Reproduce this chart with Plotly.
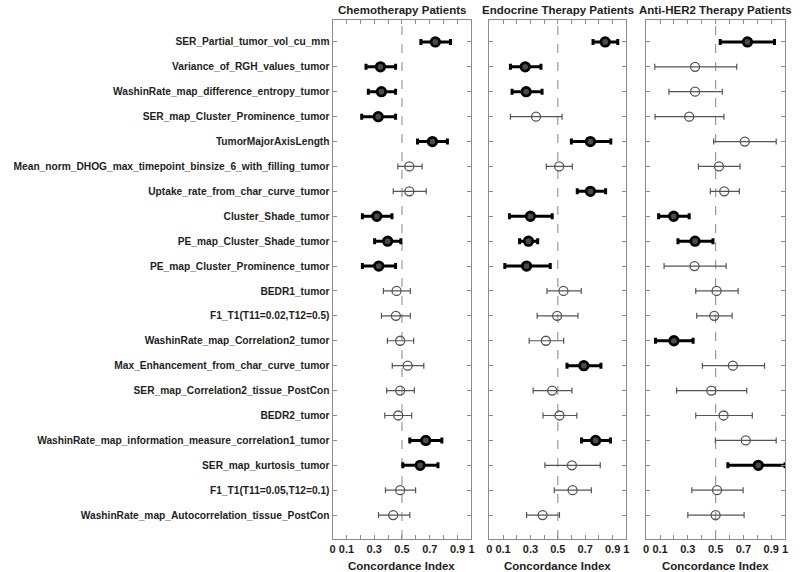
import plotly.graph_objects as go

features = [
    "SER_Partial_tumor_vol_cu_mm",
    "Variance_of_RGH_values_tumor",
    "WashinRate_map_difference_entropy_tumor",
    "SER_map_Cluster_Prominence_tumor",
    "TumorMajorAxisLength",
    "Mean_norm_DHOG_max_timepoint_binsize_6_with_filling_tumor",
    "Uptake_rate_from_char_curve_tumor",
    "Cluster_Shade_tumor",
    "PE_map_Cluster_Shade_tumor",
    "PE_map_Cluster_Prominence_tumor",
    "BEDR1_tumor",
    "F1_T1(T11=0.02,T12=0.5)",
    "WashinRate_map_Correlation2_tumor",
    "Max_Enhancement_from_char_curve_tumor",
    "SER_map_Correlation2_tissue_PostCon",
    "BEDR2_tumor",
    "WashinRate_map_information_measure_correlation1_tumor",
    "SER_map_kurtosis_tumor",
    "F1_T1(T11=0.05,T12=0.1)",
    "WashinRate_map_Autocorrelation_tissue_PostCon",
]

panel_titles = ["Chemotherapy Patients", "Endocrine Therapy Patients", "Anti-HER2 Therapy Patients"]

# Chemotherapy
chemo_ci = [0.74, 0.345, 0.352, 0.329, 0.719, 0.553, 0.553, 0.319, 0.397, 0.333,
            0.461, 0.456, 0.487, 0.541, 0.487, 0.473, 0.671, 0.631, 0.487, 0.437]
chemo_lo = [0.636, 0.241, 0.258, 0.21, 0.612, 0.47, 0.437, 0.215, 0.303, 0.215,
            0.366, 0.352, 0.395, 0.43, 0.39, 0.376, 0.556, 0.506, 0.381, 0.331]
chemo_hi = [0.849, 0.454, 0.454, 0.454, 0.827, 0.645, 0.674, 0.428, 0.492, 0.454,
            0.56, 0.56, 0.584, 0.657, 0.589, 0.57, 0.787, 0.759, 0.598, 0.556]
chemo_sig = [1, 1, 1, 1, 1, 0, 0, 1, 1, 1, 0, 0, 0, 0, 0, 0, 1, 1, 0, 0]

# Endocrine
endo_ci = [0.846, 0.262, 0.269, 0.341, 0.738, 0.51, 0.738, 0.3, 0.286, 0.272,
           0.541, 0.495, 0.413, 0.69, 0.459, 0.512, 0.776, 0.603, 0.608, 0.389]
endo_lo = [0.757, 0.154, 0.166, 0.154, 0.599, 0.416, 0.642, 0.147, 0.221, 0.113,
           0.421, 0.349, 0.291, 0.567, 0.32, 0.392, 0.673, 0.406, 0.474, 0.272]
endo_hi = [0.938, 0.377, 0.385, 0.531, 0.887, 0.606, 0.849, 0.459, 0.353, 0.445,
           0.671, 0.647, 0.543, 0.815, 0.603, 0.639, 0.885, 0.81, 0.745, 0.512]
endo_sig = [1, 1, 1, 0, 1, 0, 1, 1, 1, 1, 0, 0, 0, 1, 0, 0, 1, 0, 0, 0]

# Anti-HER2
her2_ci = [0.729, 0.352, 0.352, 0.31, 0.71, 0.524, 0.562, 0.198, 0.352, 0.348,
           0.507, 0.49, 0.2, 0.624, 0.469, 0.557, 0.717, 0.807, 0.51, 0.5]
her2_lo = [0.533, 0.062, 0.164, 0.064, 0.486, 0.376, 0.462, 0.09, 0.229, 0.129,
           0.357, 0.364, 0.067, 0.405, 0.219, 0.357, 0.498, 0.588, 0.329, 0.3]
her2_hi = [0.924, 0.652, 0.548, 0.56, 0.936, 0.676, 0.671, 0.31, 0.481, 0.576,
           0.662, 0.619, 0.338, 0.852, 0.724, 0.764, 0.936, 1.0, 0.698, 0.705]
her2_sig = [1, 0, 0, 0, 0, 0, 0, 1, 1, 0, 0, 0, 1, 0, 0, 0, 0, 1, 0, 0]

x_tickvals = [0, 0.1, 0.2, 0.3, 0.4, 0.5, 0.6, 0.7, 0.8, 0.9, 1.0]
x_ticktext = ["0", "0.1", "", "0.3", "", "0.5", "", "0.7", "", "0.9", "1"]

panels = [
    (chemo_ci, chemo_lo, chemo_hi, chemo_sig),
    (endo_ci, endo_lo, endo_hi, endo_sig),
    (her2_ci, her2_lo, her2_hi, her2_sig),
]

W, H = 800, 572
x_px = [(332, 472), (490, 628), (648, 788)]
y_top, y_bot = 20, 539
ydom = [1 - y_bot / H, 1 - y_top / H]

FONT = "Liberation Sans, Arial, sans-serif"
TXT = "#1e1e1e"
AX = "#8c8c8c"

fig = go.Figure()
rows = list(range(1, len(features) + 1))

for i, (ci, lo, hi, sig) in enumerate(panels):
    xa = "x" if i == 0 else f"x{i+1}"
    ya = "y" if i == 0 else f"y{i+1}"
    for s in (0, 1):
        idx = [k for k in range(len(ci)) if sig[k] == s]
        xs = [ci[k] for k in idx]
        ys = [rows[k] for k in idx]
        plus = [hi[k] - ci[k] for k in idx]
        minus = [ci[k] - lo[k] for k in idx]
        if s == 1:
            err = dict(type="data", array=plus, arrayminus=minus, symmetric=False,
                       color="#000000", thickness=3, width=3)
            mk = dict(symbol="circle", size=8.5, color="#4a4a4a",
                      line=dict(color="#000000", width=2.8))
        else:
            err = dict(type="data", array=plus, arrayminus=minus, symmetric=False,
                       color="#555555", thickness=1.2, width=3)
            mk = dict(symbol="circle-open", size=9, color="#555555",
                      line=dict(color="#555555", width=1.3))
        fig.add_trace(go.Scatter(x=xs, y=ys, mode="markers", marker=mk, error_x=err,
                                 xaxis=xa, yaxis=ya, showlegend=False, hoverinfo="skip"))
    # dashed line at 0.5
    fig.add_shape(type="line", x0=0.5, x1=0.5, y0=0, y1=1, xref=xa,
                  yref=f"{ya} domain", line=dict(color="#999999", width=1.2, dash="dash"),
                  layer="below")
    xk = "xaxis" if i == 0 else f"xaxis{i+1}"
    yk = "yaxis" if i == 0 else f"yaxis{i+1}"
    fig.layout[xk] = dict(
        domain=[x_px[i][0] / W, x_px[i][1] / W], range=[0, 1], anchor=ya,
        tickmode="array", tickvals=x_tickvals, ticktext=x_ticktext,
        ticks="inside", ticklen=4, tickcolor=AX, tickwidth=1,
        showline=True, linecolor=AX, linewidth=1, mirror="ticks",
        showgrid=False, zeroline=False,
        tickfont=dict(family=FONT, size=11, color=TXT, weight="bold"),
    )
    fig.layout[yk] = dict(
        domain=ydom, range=[20.96, 0.12], anchor=xa,
        tickmode="array", tickvals=rows,
        ticktext=features if i == 0 else [""] * len(rows),
        showticklabels=(i == 0),
        ticks="inside", ticklen=4, tickcolor=AX, tickwidth=1,
        showline=True, linecolor=AX, linewidth=1, mirror="ticks",
        showgrid=False, zeroline=False,
        tickfont=dict(family=FONT, size=10.2, color=TXT, weight="bold"),
        ticklabelstandoff=0,
    )
    cx = (x_px[i][0] + x_px[i][1]) / 2 / W
    fig.add_annotation(text=panel_titles[i], x=cx, y=1 - 10 / H, xref="paper", yref="paper",
                       showarrow=False, xanchor="center", yanchor="middle",
                       font=dict(family=FONT, size=11.5, color=TXT, weight="bold"))
    fig.add_annotation(text="Concordance Index", x=cx, y=1 - 566 / H, xref="paper", yref="paper",
                       showarrow=False, xanchor="center", yanchor="middle",
                       font=dict(family=FONT, size=11.5, color=TXT, weight="bold"))

fig.update_layout(
    width=W, height=H, margin=dict(l=0, r=0, t=0, b=0),
    paper_bgcolor="white", plot_bgcolor="white",
)

fig.write_html("out.html", config={"displayModeBar": False},
               post_script="document.body.style.margin='0';document.body.style.padding='0';")
